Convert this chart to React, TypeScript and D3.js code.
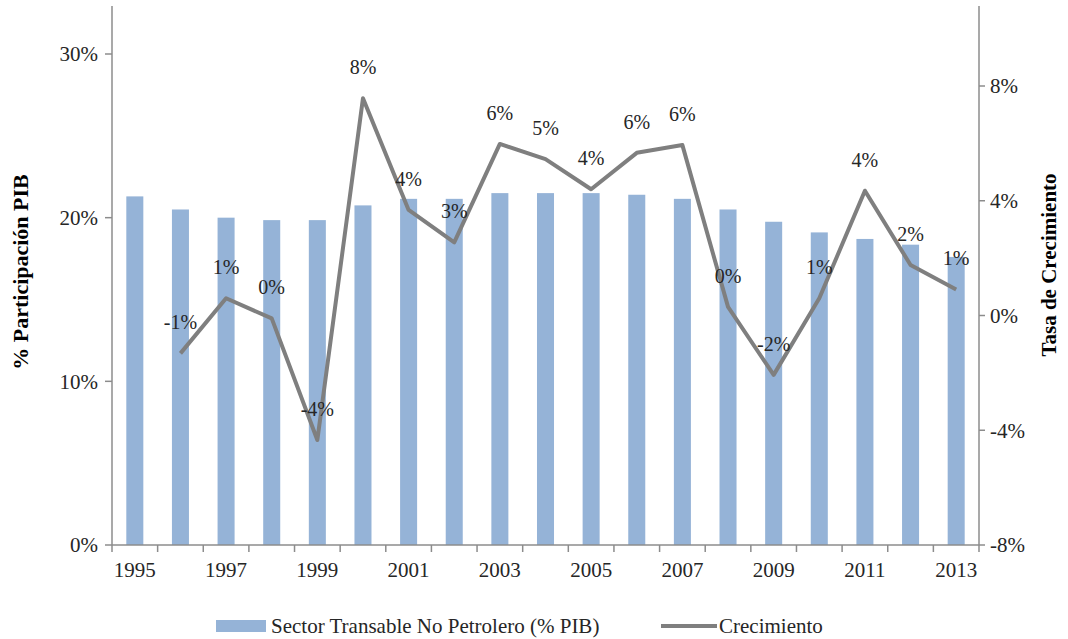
import React from "react";
import * as d3 from "d3";

const years = [1995,1996,1997,1998,1999,2000,2001,2002,2003,2004,2005,2006,2007,2008,2009,2010,2011,2012,2013];
const sectorShare = [21.3,20.5,20.0,19.85,19.85,20.75,21.15,21.15,21.5,21.5,21.5,21.4,21.15,20.5,19.75,19.1,18.7,18.35,17.6];
const growth: (number | null)[] = [null,-1.32,0.6,-0.1,-4.34,7.57,3.68,2.55,5.98,5.45,4.4,5.67,5.94,0.3,-2.07,0.6,4.35,1.76,0.91];
const leftTicks = [0,10,20,30];
const rightTicks = [-8,-4,0,4,8];

const W = 1068, H = 639;
const L = 112, R = 979, B = 545, T = 6;
const FONT = "'Liberation Serif', 'Times New Roman', serif";
const BAR = "#95B3D7";
const LINE = "#7F7F7F";
const AXIS = "#8C8C8C";
const TXT = "#262626";

export default function App() {
  const x = d3.scaleBand<number>().domain(years).range([L, R]).paddingInner(0.627).paddingOuter(0.3135);
  const yL = d3.scaleLinear().domain([0, 30]).range([B, 54]);
  const yR = d3.scaleLinear().domain([-8, 8]).range([B, 86]);
  const step = x.step();
  const bw = x.bandwidth();
  const cx = (y: number) => (x(y) as number) + bw / 2;

  const pts = years.map((yr, i) => ({ yr, v: growth[i] })).filter(d => d.v !== null) as { yr: number; v: number }[];
  const line = d3.line<{ yr: number; v: number }>().x(d => cx(d.yr)).y(d => yR(d.v));
  const boundaries = d3.range(years.length + 1).map(i => L + i * step);
  const fmt = (v: number) => `${Math.round(v) || 0}%`;

  return (
    <svg width={W} height={H} style={{ position: "absolute", left: 0, top: 0, background: "#fff" }} fontFamily={FONT}>
      {/* bars */}
      {years.map((yr, i) => (
        <rect key={yr} x={x(yr)} y={yL(sectorShare[i])} width={bw} height={B - yL(sectorShare[i])} fill={BAR} />
      ))}
      {/* axes */}
      <line x1={L} x2={L} y1={T} y2={B} stroke={AXIS} strokeWidth={1.5} />
      <line x1={R} x2={R} y1={T} y2={B} stroke={AXIS} strokeWidth={1.5} />
      <line x1={L} x2={R} y1={B} y2={B} stroke={AXIS} strokeWidth={1.5} />
      {boundaries.map((bx, i) => (
        <line key={i} x1={bx} x2={bx} y1={B} y2={B + 7} stroke={AXIS} strokeWidth={1.5} />
      ))}
      {years.map((yr, i) => i % 2 === 0 ? (
        <text key={yr} x={cx(yr)} y={577} textAnchor="middle" fontSize={21} fill={TXT}>{yr}</text>
      ) : null)}
      {leftTicks.map(t => (
        <g key={t}>
          <line x1={L - 7} x2={L} y1={yL(t)} y2={yL(t)} stroke={AXIS} strokeWidth={1.5} />
          <text x={L - 14} y={yL(t)} dy="0.35em" textAnchor="end" fontSize={21} fill={TXT}>{t}%</text>
        </g>
      ))}
      {rightTicks.map(t => (
        <g key={t}>
          <line x1={R} x2={R + 6} y1={yR(t)} y2={yR(t)} stroke={AXIS} strokeWidth={1.5} />
          <text x={R + 11} y={yR(t)} dy="0.35em" textAnchor="start" fontSize={21} fill={TXT}>{t}%</text>
        </g>
      ))}
      {/* line */}
      <path d={line(pts) || ""} fill="none" stroke={LINE} strokeWidth={4} strokeLinejoin="round" />
      {pts.map(d => (
        <text key={d.yr} x={cx(d.yr)} y={yR(d.v) - 24} textAnchor="middle" fontSize={20} fill={TXT}>{fmt(d.v)}</text>
      ))}
      {/* axis titles */}
      <text transform={`translate(28,272) rotate(-90)`} textAnchor="middle" fontSize={22} fontWeight="bold" fill="#000">% Participación PIB</text>
      <text transform={`translate(1056,265) rotate(-90)`} textAnchor="middle" fontSize={21} fontWeight="bold" fill="#000">Tasa de Crecimiento</text>
      {/* legend */}
      <rect x={216} y={620} width={50} height={12} fill={BAR} />
      <text x={271} y={633} fontSize={21} fill={TXT}>Sector Transable No Petrolero (% PIB)</text>
      <line x1={661} x2={717} y1={626} y2={626} stroke={LINE} strokeWidth={4} />
      <text x={719} y={633} fontSize={21} fill={TXT}>Crecimiento</text>
    </svg>
  );
}
